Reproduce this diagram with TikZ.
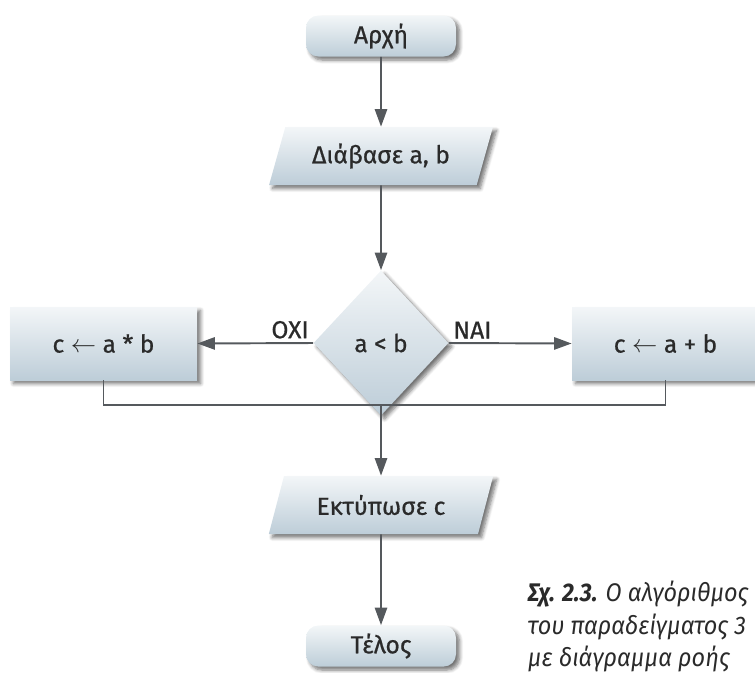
\documentclass[tikz,border=0pt]{standalone}
\usepackage{fontspec}
\setmainfont{Fira Sans}
\newfontfamily\boxfont{Fira Sans}[FakeBold=0.7]
\newfontfamily\notefont{Fira Sans}[FakeStretch=0.92]
\usetikzlibrary{shapes.geometric,arrows.meta,shadows.blur}
\definecolor{boxtop}{HTML}{F3F6F8}
\definecolor{boxbot}{HTML}{BDCDD8}
\definecolor{linegray}{HTML}{55595D}
\definecolor{captext}{HTML}{2A2A2A}
\tikzset{
  flowshade/.style={top color=boxtop, bottom color=boxbot, font=\boxfont\fontsize{14}{16}\selectfont, text=captext,
    blur shadow={shadow xshift=0.7mm, shadow yshift=-0.7mm, shadow blur steps=6, shadow opacity=55}},
  termbox/.style={flowshade, rounded corners=7pt, minimum width=3cm, minimum height=0.82cm},
  iobox/.style={flowshade, trapezium, trapezium left angle=71, trapezium right angle=109,
    trapezium stretches=true, minimum width=4.5cm, minimum height=1.16cm},
  procbox/.style={flowshade, minimum width=3.74cm, minimum height=1.46cm},
  decbox/.style={flowshade, diamond, minimum width=2.7cm, minimum height=2.9cm, inner sep=0pt},
  arr/.style={draw=linegray, line width=1.1pt, -{Triangle[length=10pt,width=7pt]}},
  joinline/.style={draw=linegray, line width=0.8pt},
  lbl/.style={font=\boxfont\fontsize{14}{16}\selectfont, text=captext, inner sep=2pt},
  capnote/.style={font=\notefont\itshape\fontsize{14.5}{18.5}\selectfont, align=left, text=captext, inner sep=0pt}
}
\begin{document}
\begin{tikzpicture}
\useasboundingbox (0,0) rectangle (15.1,-13.44);
\node [termbox] (start) at (7.62,-0.72) {Αρχή};
\node [iobox] (read) at (7.62,-3.12) {Διάβασε a, b};
\node [decbox] (test) at (7.62,-6.86) {a < b};
\node [procbox] (mul) at (2.07,-6.87) {c $\leftarrow$ a * b};
\node [procbox] (add) at (13.31,-6.87) {c $\leftarrow$ a + b};
\coordinate (merge) at (7.62,-8.1);
\node [iobox] (print) at (7.62,-10.1) {Εκτύπωσε c};
\node [termbox] (stop) at (7.62,-12.92) {Τέλος};
\draw [arr] (start) -- (read);
\draw [arr] (read) -- (test);
\draw [arr] (test.west) -- node [lbl,above left,pos=0] {ΟΧΙ} (mul.east);
\draw [arr] (test.east) -- node [lbl,above right,pos=0] {ΝΑΙ} (add.west);
\draw [joinline] (mul.south) |- (merge) -| (add.south);
\draw [arr] (merge) -- (print.north);
\draw [arr] (print) -- (stop);
\node [capnote,anchor=north west] (cap) at (10.55,-11.62) {\textbf{Σχ. 2.3.} Ο αλγόριθμος\\του παραδείγματος 3\\με διάγραμμα ροής};
\end{tikzpicture}
\end{document}
